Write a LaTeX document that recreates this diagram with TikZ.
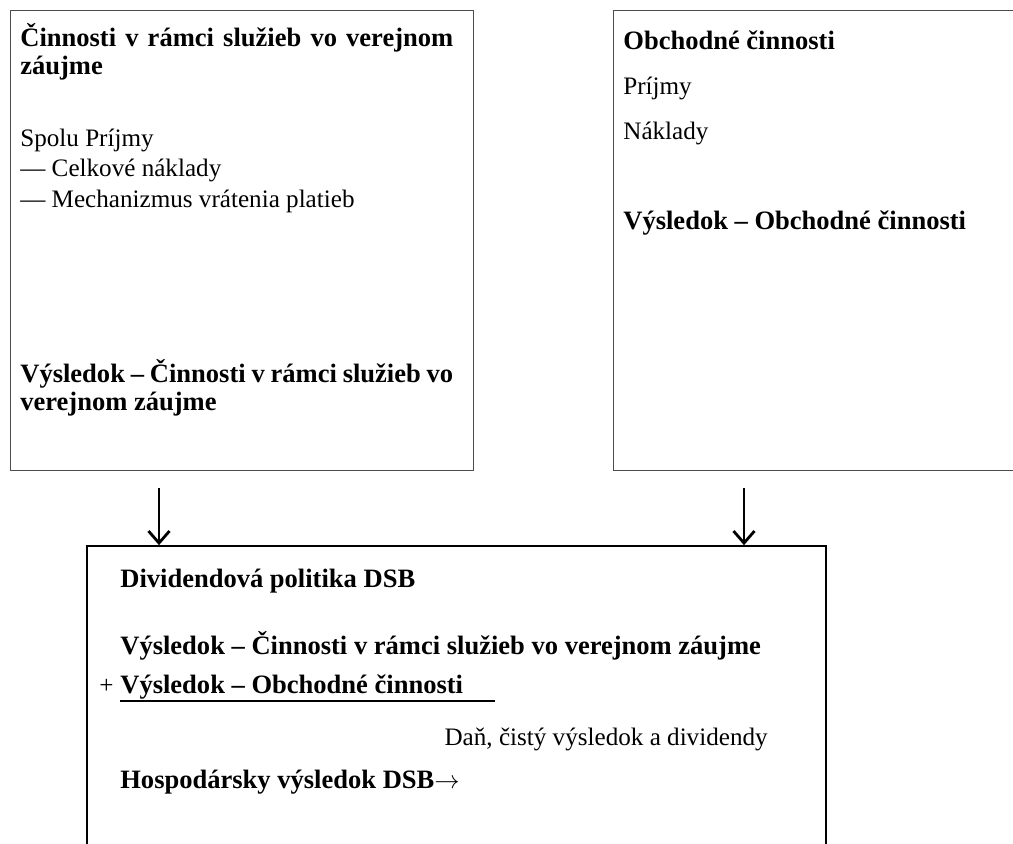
\documentclass[tikz,border=0pt]{standalone}
\usepackage{fontspec}
\setmainfont{Liberation Serif}
\usetikzlibrary{arrows.meta, positioning}

\begin{document}
\begin{tikzpicture}[
  x=0.02cm, y=-0.02cm,
  box/.style={draw=black!70, line width=0.5pt, inner sep=0pt},
  mainbox/.style={draw=black, line width=1pt, inner sep=0pt},
  flow/.style={-{Straight Barb[length=2.4mm, width=4.2mm, line width=1.6pt]}, line width=1.2pt},
  txt/.style={anchor=base west, inner sep=0pt, font=\fontsize{14.3}{17}\selectfont},
  hd/.style={txt, font=\fontsize{15.1}{18}\selectfont\bfseries}
]
\useasboundingbox (0,0) rectangle (1013,844);

\node[box, minimum width=9.26cm, minimum height=9.2cm] (verejne) at (241.5,240) {};
\node[box, minimum width=8.34cm, minimum height=9.2cm] (obchod) at (821.5,240) {};
\node[mainbox, minimum width=14.78cm, minimum height=7.08cm] (dsb) at (456.5,723) {};

\node[hd] (vtitle) at (20,47) {\makebox[8.66cm][s]{Činnosti v rámci služieb vo verejnom}};
\node[hd] (vtitle2) at (20,75) {záujme};
\node[txt] (vprijmy) at (20,147) {Spolu Príjmy};
\node[txt] (vnaklady) at (20,177) {— Celkové náklady};
\node[txt] (vmech) at (20,208) {— Mechanizmus vrátenia platieb};
\node[hd] (vres) at (20,382) {\makebox[8.66cm][s]{Výsledok – Činnosti v rámci služieb vo}};
\node[hd] (vres2) at (20,410) {verejnom záujme};

\node[hd] (otitle) at (623,50) {Obchodné činnosti};
\node[txt] (oprijmy) at (623,95) {Príjmy};
\node[txt] (onaklady) at (623,140) {Náklady};
\node[hd] (ores) at (623,230) {Výsledok – Obchodné činnosti};

\node[hd] (dtitle) at (120,587) {Dividendová politika DSB};
\node[hd] (dver) at (120,654) {Výsledok – Činnosti v rámci služieb vo verejnom záujme};
\node[txt] (dplus) at (99,693) {+};
\node[hd] (dobch) at (120,693) {Výsledok – Obchodné činnosti};
\draw[line width=0.8pt] ([yshift=-0.16cm]dobch.base west) -- ++(375,0);
\node[txt, anchor=base east] (ddan) at (768,745) {Daň, čistý výsledok a dividendy};
\node[hd] (dhosp) at (120,788) {Hospodársky výsledok DSB$\rightarrow$};

\coordinate (vout) at (159,488);
\coordinate (oout) at (744,488);
\draw[flow] (vout) -- (vout |- dsb.north);
\draw[flow] (oout) -- (oout |- dsb.north);
\end{tikzpicture}
\end{document}
